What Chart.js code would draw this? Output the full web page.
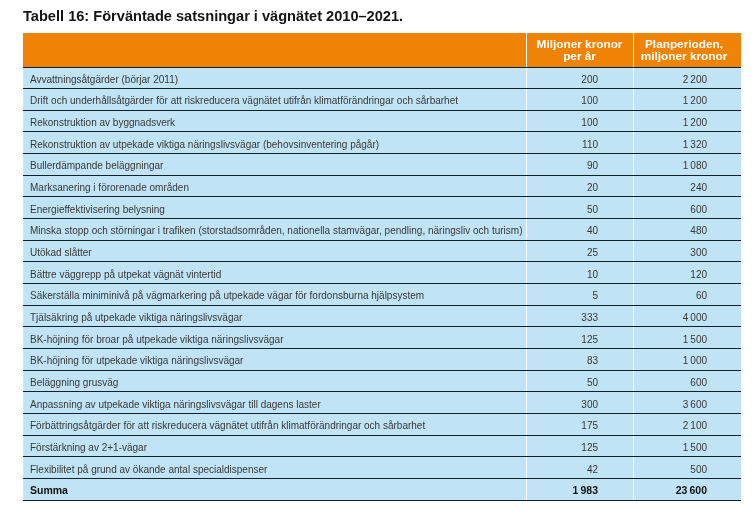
<!DOCTYPE html>
<html>
<head>
<meta charset="utf-8">
<script src="https://cdn.jsdelivr.net/npm/chart.js@4"></script>
<style>
  html, body { margin: 0; padding: 0; background: #ffffff; }
  #wrap { width: 755px; height: 518px; }
</style>
</head>
<body>
<div id="wrap"><canvas id="c" width="755" height="518"></canvas></div>
<script>
const titleText = 'Tabell 16: Förväntade satsningar i vägnätet 2010–2021.';
const headerPerYear = ['Miljoner kronor', 'per år'];
const headerPeriod = ['Planperioden,', 'miljoner kronor'];
const rowLabels = [
  'Avvattningsåtgärder (börjar 2011)',
  'Drift och underhållsåtgärder för att riskreducera vägnätet utifrån klimatförändringar och sårbarhet',
  'Rekonstruktion av byggnadsverk',
  'Rekonstruktion av utpekade viktiga näringslivsvägar (behovsinventering pågår)',
  'Bullerdämpande beläggningar',
  'Marksanering i förorenade områden',
  'Energieffektivisering belysning',
  'Minska stopp och störningar i trafiken (storstadsområden, nationella stamvägar, pendling, näringsliv och turism)',
  'Utökad slåtter',
  'Bättre väggrepp på utpekat vägnät vintertid',
  'Säkerställa miniminivå på vägmarkering på utpekade vägar för fordonsburna hjälpsystem',
  'Tjälsäkring på utpekade viktiga näringslivsvägar',
  'BK-höjning för broar på utpekade viktiga näringslivsvägar',
  'BK-höjning för utpekade viktiga näringslivsvägar',
  'Beläggning grusväg',
  'Anpassning av utpekade viktiga näringslivsvägar till dagens laster',
  'Förbättringsåtgärder för att riskreducera vägnätet utifrån klimatförändringar och sårbarhet',
  'Förstärkning av 2+1-vägar',
  'Flexibilitet på grund av ökande antal specialdispenser'
];
const perYear = [200, 100, 100, 110, 90, 20, 50, 40, 25, 10, 5, 333, 125, 83, 50, 300, 175, 125, 42];
const period = [2200, 1200, 1200, 1320, 1080, 240, 600, 480, 300, 120, 60, 4000, 1500, 1000, 600, 3600, 2100, 1500, 500];
const sumLabel = 'Summa';
const sumPerYear = 1983;
const sumPeriod = 23600;

const allLabels = rowLabels.concat([sumLabel]);
const allPerYear = perYear.concat([sumPerYear]);
const allPeriod = period.concat([sumPeriod]);

// column boundaries on the x scale (0..100)
const colEdges = [0, 70.06, 84.96, 100];

function fmt(n) {
  const s = String(n);
  return s.replace(/\B(?=(\d{3})+(?!\d))/g, '\u2009');
}

const FONT = '"Liberation Sans", Arial, Helvetica, sans-serif';

const tablePlugin = {
  id: 'tableText',
  afterDraw(chart) {
    const ctx = chart.ctx;
    const xs = chart.scales.x, ys = chart.scales.y;
    const area = chart.chartArea;
    const x0 = xs.getPixelForValue(colEdges[0]);
    const x1 = xs.getPixelForValue(colEdges[1]);
    const x2 = xs.getPixelForValue(colEdges[2]);
    const x3 = xs.getPixelForValue(colEdges[3]);
    const headTop = area.top - 34;
    ctx.save();
    // header
    ctx.fillStyle = '#ee8306';
    ctx.fillRect(x0, headTop, x3 - x0, area.top - headTop);
    ctx.strokeStyle = '#ffffff';
    ctx.lineWidth = 1;
    [x1, x2].forEach(x => {
      ctx.beginPath();
      ctx.moveTo(Math.round(x) + 0.5, headTop);
      ctx.lineTo(Math.round(x) + 0.5, area.top);
      ctx.stroke();
    });
    ctx.fillStyle = '#ffffff';
    ctx.font = 'bold 11.8px ' + FONT;
    ctx.textAlign = 'center';
    ctx.textBaseline = 'alphabetic';
    const c1 = (x1 + x2) / 2, c2 = (x2 + x3) / 2 - 3;
    ctx.fillText(headerPerYear[0], c1, headTop + 14.5);
    ctx.fillText(headerPerYear[1], c1, headTop + 27);
    ctx.fillText(headerPeriod[0], c2, headTop + 14.5);
    ctx.fillText(headerPeriod[1], c2, headTop + 27);
    // dark line under header
    ctx.strokeStyle = '#10202c';
    ctx.beginPath();
    ctx.moveTo(x0, Math.round(area.top) + 0.5);
    ctx.lineTo(x3, Math.round(area.top) + 0.5);
    ctx.stroke();

    // rows
    allLabels.forEach((lab, i) => {
      const yc = ys.getPixelForValue(i) + 5;
      const isSum = i === allLabels.length - 1;
      ctx.fillStyle = isSum ? '#111111' : '#383838';
      ctx.font = (isSum ? 'bold 10.5px ' : '10px ') + FONT;
      ctx.textAlign = 'left';
      ctx.fillText(lab, x0 + 7, yc);
      ctx.textAlign = 'right';
      ctx.fillText(fmt(allPerYear[i]), x2 - 35, yc);
      ctx.fillText(fmt(allPeriod[i]), x3 - 34, yc);
    });
    ctx.restore();
  }
};

new Chart(document.getElementById('c'), {
  type: 'bar',
  data: {
    labels: allLabels,
    datasets: [{
      data: allLabels.map(() => [colEdges[0], colEdges[3]]),
      backgroundColor: '#c1e3f6',
      borderWidth: 0,
      barPercentage: 1,
      categoryPercentage: 1
    }]
  },
  options: {
    indexAxis: 'y',
    responsive: false,
    animation: false,
    devicePixelRatio: 1,
    layout: { padding: { left: 23, right: 14, top: 0, bottom: 18 } },
    plugins: {
      legend: { display: false },
      tooltip: { enabled: false },
      title: {
        display: true,
        text: titleText,
        align: 'start',
        color: '#151515',
        font: { family: FONT, size: 14.6, weight: 'bold' },
        padding: { top: 8, bottom: 41.5 }
      }
    },
    scales: {
      x: {
        type: 'linear',
        min: colEdges[0],
        max: colEdges[3],
        afterBuildTicks: (scale) => { scale.ticks = colEdges.map(v => ({ value: v })); },
        ticks: { display: false },
        grid: { z: 1, color: (c) => (c.index === 1 || c.index === 2) ? '#ffffff' : 'rgba(0,0,0,0)', lineWidth: 1, drawTicks: false },
        border: { display: false }
      },
      y: {
        type: 'category',
        ticks: { display: false },
        grid: { z: 2, offset: true, color: '#10202c', lineWidth: 1, drawTicks: false },
        border: { display: false }
      }
    }
  },
  plugins: [tablePlugin]
});
</script>
</body>
</html>
